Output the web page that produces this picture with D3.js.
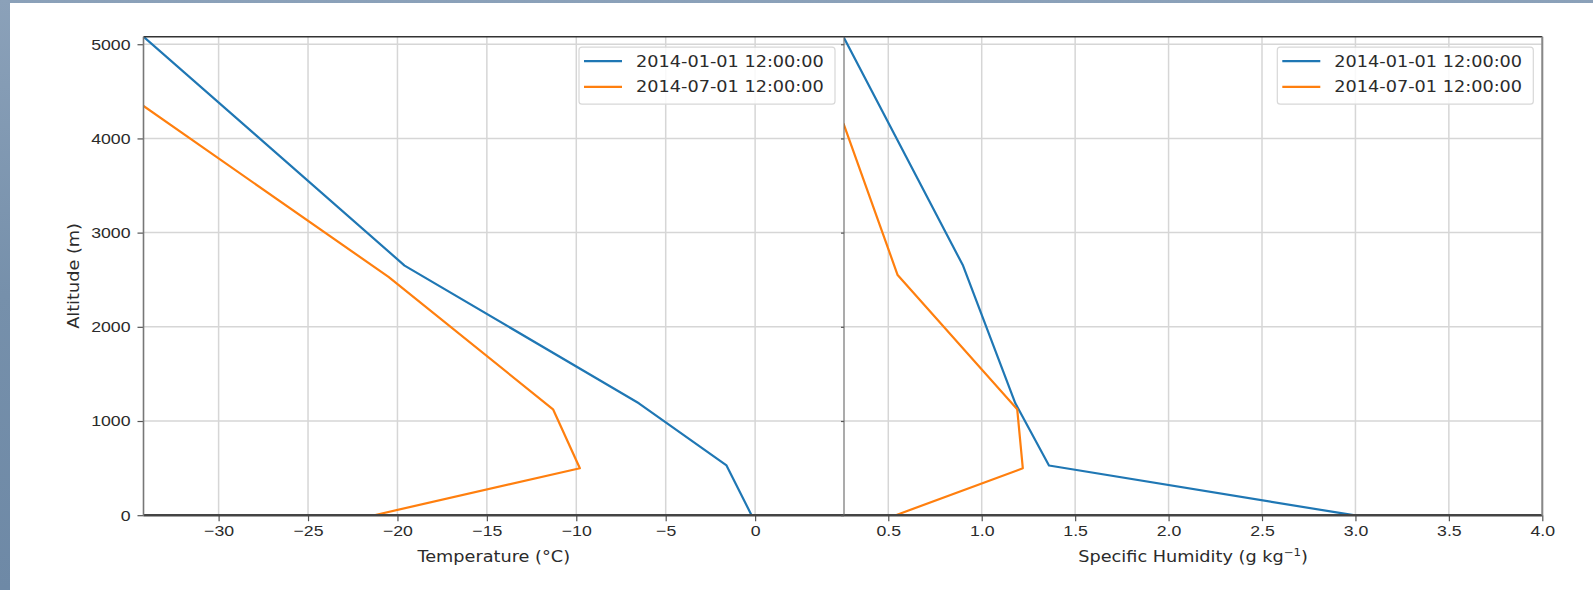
<!DOCTYPE html>
<html lang="en">
<head>
  <meta charset="UTF-8">
  <title>profiles</title>
  <style>
    body { margin: 0; background: #fff; }
    svg { display: block; font-family: "DejaVu Sans", sans-serif; }
    .grid line { stroke: #d6d6d6; stroke-width: 1.5; }
    .axis path { display: none; }
    .axis line { stroke: #555; stroke-width: 1.2; }
    .axis text { fill: #2b2b2b; font-size: 15px; }
    .lbl { fill: #2b2b2b; font-size: 15px; }
  </style>
</head>
<body>
  <svg width="1593" height="590"></svg>
  <script src="https://cdn.jsdelivr.net/npm/d3@7"></script>
  <script>
    // data
    var altTicks = [0, 1000, 2000, 3000, 4000, 5000];
    var tempTicks = [-30, -25, -20, -15, -10, -5, 0];
    var humTicks = [0.5, 1.0, 1.5, 2.0, 2.5, 3.0, 3.5, 4.0];
    var seriesNames = ["2014-01-01 12:00:00", "2014-07-01 12:00:00"];
    var colors = ["#1f77b4", "#ff7f0e"];

    var altJan = [0, 528, 1188, 2650, 5080];
    var tempJan = [-0.2, -1.6, -6.5, -19.6, -34.2];
    var humJan = [2.99, 1.36, 1.18, 0.90, 0.26];

    var tempAltJul = [0, 498, 1124, 2530, 4344];
    var tempJul = [-21.3, -9.8, -11.3, -20.5, -34.2];
    var humAltJul = [0, 498, 1124, 2550, 4160];
    var humJul = [0.54, 1.22, 1.19, 0.55, 0.26];

    var svg = d3.select("svg");
    var sx = "scale(1.18,1)";  // the picture is a bit stretched sideways

    // frame around the figure
    var defs = svg.append("defs");
    var grad = defs.append("linearGradient").attr("id", "frame")
      .attr("x1", 0).attr("y1", 0).attr("x2", 0).attr("y2", 1);
    grad.append("stop").attr("offset", "0%").attr("stop-color", "#8ba1b9");
    grad.append("stop").attr("offset", "50%").attr("stop-color", "#7690ab");
    grad.append("stop").attr("offset", "100%").attr("stop-color", "#6e89a6");
    svg.append("rect").attr("width", 1593).attr("height", 590).attr("fill", "url(#frame)");
    svg.append("rect").attr("x", 10).attr("y", 3).attr("width", 1583).attr("height", 587).attr("fill", "#fff");

    var plotTop = 36.7, plotBottom = 515.2;
    var y = d3.scaleLinear().domain([0, 5080]).range([plotBottom, plotTop]);
    var xT = d3.scaleLinear().domain([-34.2, 4.97]).range([143.5, 844]);
    var xH = d3.scaleLinear().domain([0.263, 4.0]).range([844, 1542.3]);

    var panels = [
      {x: xT, ticks: tempTicks, fmt: d3.format("d"), label: "Temperature (°C)", id: "cT",
        series: [{alt: altJan, v: tempJan}, {alt: tempAltJul, v: tempJul}]},
      {x: xH, ticks: humTicks, fmt: d3.format(".1f"), label: "Specific Humidity (g kg", id: "cH",
        series: [{alt: altJan, v: humJan}, {alt: humAltJul, v: humJul}]}
    ];

    panels.forEach(function(p, i) {
      var x0 = p.x.range()[0], x1 = p.x.range()[1];
      var g = svg.append("g");

      defs.append("clipPath").attr("id", p.id).append("rect")
        .attr("x", x0).attr("y", plotTop).attr("width", x1 - x0).attr("height", plotBottom - plotTop);

      // grid
      var grid = g.append("g").attr("class", "grid");
      grid.selectAll(".gx").data(p.ticks).enter().append("line")
        .attr("x1", function(d) { return p.x(d); }).attr("x2", function(d) { return p.x(d); })
        .attr("y1", plotTop).attr("y2", plotBottom);
      grid.selectAll(".gy").data(altTicks).enter().append("line")
        .attr("x1", x0).attr("x2", x1)
        .attr("y1", function(d) { return y(d); }).attr("y2", function(d) { return y(d); });

      // axis-x
      var ax = g.append("g").attr("class", "axis")
        .attr("transform", "translate(0," + plotBottom + ")")
        .call(d3.axisBottom(p.x).tickValues(p.ticks).tickFormat(p.fmt).tickSize(6).tickPadding(4));
      ax.selectAll("text").attr("transform", sx);

      // axis-y (labels only on the left panel)
      var ay = g.append("g").attr("class", "axis")
        .attr("transform", "translate(" + x0 + ",0)")
        .call(d3.axisLeft(y).tickValues(altTicks).tickFormat(d3.format("d"))
          .tickSize(i == 0 ? 6 : 3).tickPadding(5));
      if (i == 0) ay.selectAll("text").attr("transform", sx);
      else ay.selectAll("text").remove();

      // lines
      var line = d3.line().x(function(d) { return p.x(d[0]); }).y(function(d) { return y(d[1]); });
      g.append("g").attr("clip-path", "url(#" + p.id + ")")
        .selectAll("path").data(p.series).enter().append("path")
        .attr("d", function(s) { return line(s.v.map(function(v, k) { return [v, s.alt[k]]; })); })
        .attr("fill", "none")
        .attr("stroke", function(s, k) { return colors[k]; })
        .attr("stroke-width", 2.2)
        .attr("stroke-linejoin", "round");

      // spines
      g.append("line").attr("x1", x0).attr("x2", x1).attr("y1", plotTop).attr("y2", plotTop)
        .attr("stroke", "#333").attr("stroke-width", 1.4);
      g.append("line").attr("x1", x0).attr("x2", x1).attr("y1", plotBottom).attr("y2", plotBottom)
        .attr("stroke", "#444").attr("stroke-width", 2.6);
      g.append("line").attr("x1", x0).attr("x2", x0).attr("y1", plotTop).attr("y2", plotBottom)
        .attr("stroke", i == 0 ? "#777" : "#666").attr("stroke-width", i == 0 ? 1.6 : 1.1);
      if (i == 1) {
        g.append("line").attr("x1", x1).attr("x2", x1).attr("y1", plotTop).attr("y2", plotBottom)
          .attr("stroke", "#888").attr("stroke-width", 2);
      }

      // x label
      var xl = g.append("g").attr("transform", "translate(" + ((x0 + x1) / 2) + ",562)")
        .append("text").attr("class", "lbl").attr("text-anchor", "middle").attr("transform", sx)
        .text(p.label);
      if (i == 1) {
        xl.append("tspan").attr("dy", -6).attr("font-size", "10px").text("\u22121");
        xl.append("tspan").attr("dy", 6).text(")");
      }

      // legend
      var bx = x1 - 9 - 256, by = plotTop + 10.5;
      var leg = g.append("g");
      leg.append("rect").attr("x", bx).attr("y", by).attr("width", 256).attr("height", 57)
        .attr("rx", 3).attr("fill", "#fff").attr("fill-opacity", 0.85)
        .attr("stroke", "#d8d8d8").attr("stroke-width", 1.2);
      seriesNames.forEach(function(name, k) {
        var ry = by + 14 + k * 25.7;
        leg.append("line").attr("x1", bx + 5).attr("x2", bx + 43).attr("y1", ry).attr("y2", ry)
          .attr("stroke", colors[k]).attr("stroke-width", 2.2);
        leg.append("g").attr("transform", "translate(" + (bx + 57) + "," + (ry + 5.5) + ")")
          .append("text").attr("class", "lbl").attr("transform", sx).text(name);
      });
    });

    // y label
    svg.append("g").attr("transform", "translate(79," + ((plotTop + plotBottom) / 2) + ") rotate(-90)")
      .append("text").attr("class", "lbl").attr("text-anchor", "middle").attr("transform", sx)
      .text("Altitude (m)");
  </script>
</body>
</html>
